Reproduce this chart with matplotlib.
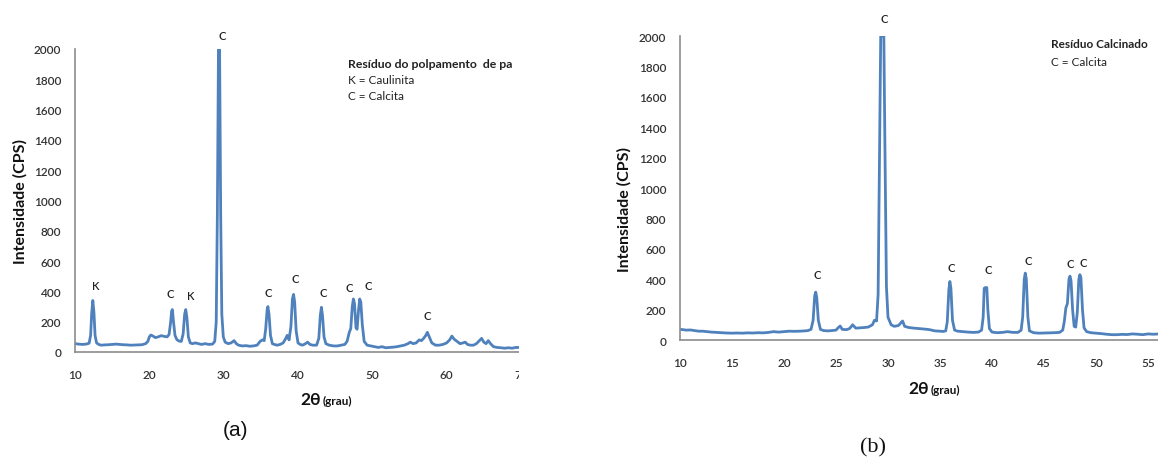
import matplotlib
matplotlib.use("Agg")
import matplotlib.pyplot as plt
from matplotlib.patches import Rectangle

plt.rcParams['font.family'] = ['Lato', 'DejaVu Sans']

# ---------------- data ----------------
# Panel (a): Resíduo do polpamento de papel
a_x = [10.0, 10.5, 11.0, 11.5, 11.9, 12.1, 12.25, 12.4, 12.55, 12.7, 12.9, 13.2, 13.5, 14.0, 14.5,
       15.0, 15.5, 16.0, 16.5, 17.0, 17.5, 18.0, 18.5, 19.0, 19.5, 19.8, 20.0, 20.2, 20.5, 20.8,
       21.2, 21.6, 22.0, 22.4, 22.65, 22.85, 23.0, 23.1, 23.25, 23.45, 23.7, 24.0, 24.3, 24.55, 24.75,
       24.9, 25.05, 25.25, 25.5, 25.8, 26.2, 26.6, 27.0, 27.5, 28.0, 28.5, 28.8, 29.0, 29.15, 29.3,
       29.45, 29.6, 29.75, 29.95, 30.2, 30.6, 31.0, 31.4, 31.7, 32.0, 32.5, 33.0, 33.5, 34.0, 34.5,
       34.9, 35.2, 35.45, 35.65, 35.85, 35.95, 36.1, 36.3, 36.55, 36.8, 37.2, 37.6, 38.0, 38.3, 38.55,
       38.8, 39.05, 39.25, 39.4, 39.55, 39.75, 40.0, 40.3, 40.6, 41.0, 41.3, 41.6, 42.0, 42.5, 42.8,
       43.0, 43.15, 43.3, 43.5, 43.75, 44.2, 44.8, 45.3, 45.8, 46.3, 46.6, 46.9, 47.1, 47.3, 47.45,
       47.6, 47.8, 47.95, 48.15, 48.3, 48.45, 48.65, 48.9, 49.3, 49.8, 50.3, 50.8, 51.3, 51.8, 52.3,
       52.8, 53.3, 53.8, 54.3, 54.8, 55.1, 55.5, 55.9, 56.3, 56.6, 56.9, 57.2, 57.4, 57.7, 58.0,
       58.5, 59.0, 59.5, 60.0, 60.4, 60.7, 61.0, 61.4, 61.8, 62.2, 62.5, 62.8, 63.2, 63.6, 64.0,
       64.4, 64.7, 65.0, 65.3, 65.6, 65.9, 66.3, 66.8, 67.3, 67.8, 68.3, 68.8, 69.3, 70.0]
a_y = [55, 52, 50, 52, 58, 110, 260, 340, 260, 110, 60, 50, 45, 47, 48,
       50, 52, 50, 48, 47, 45, 46, 47, 48, 55, 70, 100, 112, 105, 95,
       100, 108, 103, 100, 115, 190, 270, 280, 200, 110, 82, 72, 70, 120, 250,
       280, 230, 100, 60, 55, 60, 55, 50, 55, 50, 52, 70, 200, 900, 2000,
       2000, 900, 250, 100, 65, 55, 60, 75, 55, 45, 40, 42, 38, 40, 45,
       70, 80, 75, 150, 280, 300, 250, 110, 55, 50, 45, 50, 60, 85, 110,
       80, 170, 350, 380, 330, 140, 60, 50, 45, 55, 65, 50, 45, 45, 90,
       240, 295, 240, 100, 55, 45, 40, 40, 45, 50, 70, 130, 155, 300, 350,
       320, 160, 150, 280, 350, 330, 180, 70, 45, 40, 35, 30, 35, 28, 30,
       32, 35, 40, 45, 55, 65, 55, 60, 80, 75, 90, 110, 130, 95, 60,
       45, 45, 50, 60, 80, 105, 85, 70, 55, 60, 65, 50, 45, 45, 55,
       75, 90, 65, 55, 75, 55, 35, 30, 28, 25, 28, 25, 30, 30]

# Panel (b): Resíduo calcinado
b_x = [10.0, 10.3, 10.6, 11.0, 11.4, 11.8, 12.2, 12.6, 13.0, 13.5, 14.0, 14.5, 15.0, 15.5, 16.0,
       16.5, 17.0, 17.5, 18.0, 18.5, 19.0, 19.5, 20.0, 20.5, 21.0, 21.5, 22.0, 22.3, 22.6, 22.8,
       22.95, 23.05, 23.15, 23.3, 23.5, 23.8, 24.2, 24.6, 25.0, 25.2, 25.4, 25.6, 26.0, 26.3, 26.6,
       26.9, 27.3, 27.7, 28.1, 28.5, 28.7, 28.9, 29.05, 29.2, 29.3, 29.6, 29.7, 29.85, 30.0, 30.3,
       30.6, 31.0, 31.2, 31.4, 31.6, 32.0, 32.5, 33.0, 33.5, 34.0, 34.5, 35.0, 35.3, 35.55, 35.7,
       35.85, 35.95, 36.05, 36.2, 36.4, 36.7, 37.2, 37.7, 38.2, 38.7, 39.0, 39.15, 39.25, 39.35, 39.5,
       39.6, 39.75, 40.0, 40.5, 41.0, 41.5, 42.0, 42.5, 42.8, 42.95, 43.1, 43.2, 43.3, 43.45, 43.6,
       44.0, 44.5, 45.0, 45.5, 46.0, 46.5, 46.8, 46.95, 47.1, 47.25, 47.4, 47.5, 47.6, 47.75, 47.9,
       48.05, 48.2, 48.35, 48.45, 48.55, 48.7, 48.85, 49.1, 49.5, 50.0, 50.5, 51.0, 51.5, 52.0, 52.5,
       53.0, 53.5, 54.0, 54.5, 55.0, 55.5, 56.0, 56.5, 57.0, 58.0, 59.0, 60.0]
b_y = [70, 68, 65, 66, 62, 58, 58, 55, 52, 50, 48, 46, 45, 46, 45,
       47, 46, 48, 47, 50, 55, 52, 55, 58, 57, 58, 60, 62, 70, 130,
       290, 315, 280, 130, 70, 62, 60, 62, 65, 80, 92, 70, 68, 75, 100,
       78, 80, 82, 85, 100, 130, 125, 300, 1300, 2000, 2000, 1300, 350, 150, 100,
       90, 95, 110, 125, 90, 82, 78, 75, 72, 68, 60, 58, 56, 60, 120,
       330, 385, 340, 130, 65, 58, 55, 52, 50, 52, 65, 150, 340, 345, 345,
       200, 75, 52, 48, 50, 55, 50, 50, 65, 150, 400, 440, 400, 150, 60,
       48, 45, 46, 47, 48, 50, 65, 120, 210, 240, 400, 420, 390, 200, 90,
       85, 180, 400, 430, 410, 200, 80, 55, 48, 45, 42, 38, 35, 35, 37,
       36, 40, 38, 35, 40, 38, 40, 38, 40, 40, 38, 40]

# Peak labels: label position (2θ, intensity) and text
a_lab_x = [12.85, 22.8, 25.6, 29.8, 35.95, 39.6, 43.45, 46.85, 49.5, 57.4]
a_lab_y = [436, 383, 370, 2086, 396, 488, 396, 429, 442, 244]
a_lab_t = ['K', 'C', 'K', 'C', 'C', 'C', 'C', 'C', 'C', 'C']

b_lab_x = [23.15, 29.6, 36.05, 39.6, 43.5, 47.5, 48.8]
b_lab_y = [428, 2112, 480, 467, 526, 506, 513]
b_lab_t = ['C', 'C', 'C', 'C', 'C', 'C', 'C']

a_xticks = [10, 20, 30, 40, 50, 60, 70]
b_xticks = [10, 15, 20, 25, 30, 35, 40, 45, 50, 55]
yticks = [0, 200, 400, 600, 800, 1000, 1200, 1400, 1600, 1800, 2000]

LINE = '#4F81BD'
SPINE = '#8C8C8C'
TXT = '#333333'

W, H = 1158, 460
fig = plt.figure(figsize=(W / 100, H / 100), dpi=100)


def fx(px):
    return px / W


def fy(py):
    return 1 - py / H


def setup(ax, xlim, xticks):
    ax.set_xlim(*xlim)
    ax.set_ylim(0, 2000)
    ax.set_xticks(xticks)
    ax.set_yticks(yticks)
    for s in ('top', 'right'):
        ax.spines[s].set_visible(False)
    for s in ('left', 'bottom'):
        ax.spines[s].set_color(SPINE)
        ax.spines[s].set_linewidth(1.2)
    ax.tick_params(length=0, labelsize=8.5, colors=TXT)
    ax.tick_params(axis='y', pad=10)
    ax.tick_params(axis='x', pad=12)
    for lab in ax.get_xticklabels() + ax.get_yticklabels():
        lab.set_fontweight('semibold')


# ---------- panel (a) ----------
axa = fig.add_axes([fx(75), fy(353), fx(521 - 75), (353 - 50) / H])
axa.plot(a_x, a_y, color=LINE, lw=2.0, solid_joinstyle='round')
setup(axa, (10, 70), a_xticks)
for x, y, t in zip(a_lab_x, a_lab_y, a_lab_t):
    axa.text(x, y, t, ha='center', va='center', fontsize=8, fontweight='semibold',
             color='#222222', clip_on=False)
fig.text(fx(348), fy(64), 'Resíduo do polpamento  de pa', fontsize=8.8, fontweight='bold',
         color='#222222', va='center', ha='left')
fig.text(fx(348), fy(80), 'K = Caulinita', fontsize=8.5, color='#222222', va='center', ha='left')
fig.text(fx(348), fy(97), 'C = Calcita', fontsize=8.5, color='#222222', va='center', ha='left')
fig.text(fx(20), fy(202), 'Intensidade (CPS)', rotation=90, fontsize=11.5, fontweight='bold',
         color='#111111', va='center', ha='center')
fig.text(fx(321), fy(405), '2θ', fontsize=12.5, fontweight='bold', color='#111111',
         ha='right', va='baseline')
fig.text(fx(323), fy(405), '(grau)', fontsize=8.5, fontweight='bold', color='#111111',
         ha='left', va='baseline')
fig.text(fx(235), fy(431), '(a)', fontsize=15, family='Liberation Sans', color='#111111',
         ha='center', va='center')

# crop the right edge of panel (a), as in the source image
fig.add_artist(Rectangle((fx(519), 0), fx(592 - 519), 1, transform=fig.transFigure,
                         facecolor='white', edgecolor='none', zorder=10))

# ---------- panel (b) ----------
axb = fig.add_axes([fx(680), fy(341), fx(50 * 10.4), (341 - 37) / H])
axb.plot(b_x, b_y, color=LINE, lw=2.0, solid_joinstyle='round')
setup(axb, (10, 60), b_xticks)
for x, y, t in zip(b_lab_x, b_lab_y, b_lab_t):
    axb.text(x, y, t, ha='center', va='center', fontsize=8, fontweight='semibold',
             color='#222222', clip_on=False)
fig.text(fx(1051), fy(45), 'Resíduo Calcinado', fontsize=8.5, fontweight='bold',
         color='#222222', va='center', ha='left')
fig.text(fx(1051), fy(62), 'C = Calcita', fontsize=8.5, color='#222222', va='center', ha='left')
fig.text(fx(624), fy(210), 'Intensidade (CPS)', rotation=90, fontsize=11.5, fontweight='bold',
         color='#111111', va='center', ha='center')
fig.text(fx(929), fy(394), '2θ', fontsize=12.5, fontweight='bold', color='#111111',
         ha='right', va='baseline')
fig.text(fx(931), fy(394), '(grau)', fontsize=8.5, fontweight='bold', color='#111111',
         ha='left', va='baseline')
fig.text(fx(873), fy(448), '(b)', fontsize=16, family='Liberation Serif', color='#111111',
         ha='center', va='center')

fig.savefig('out.png', dpi=100, facecolor='white')
